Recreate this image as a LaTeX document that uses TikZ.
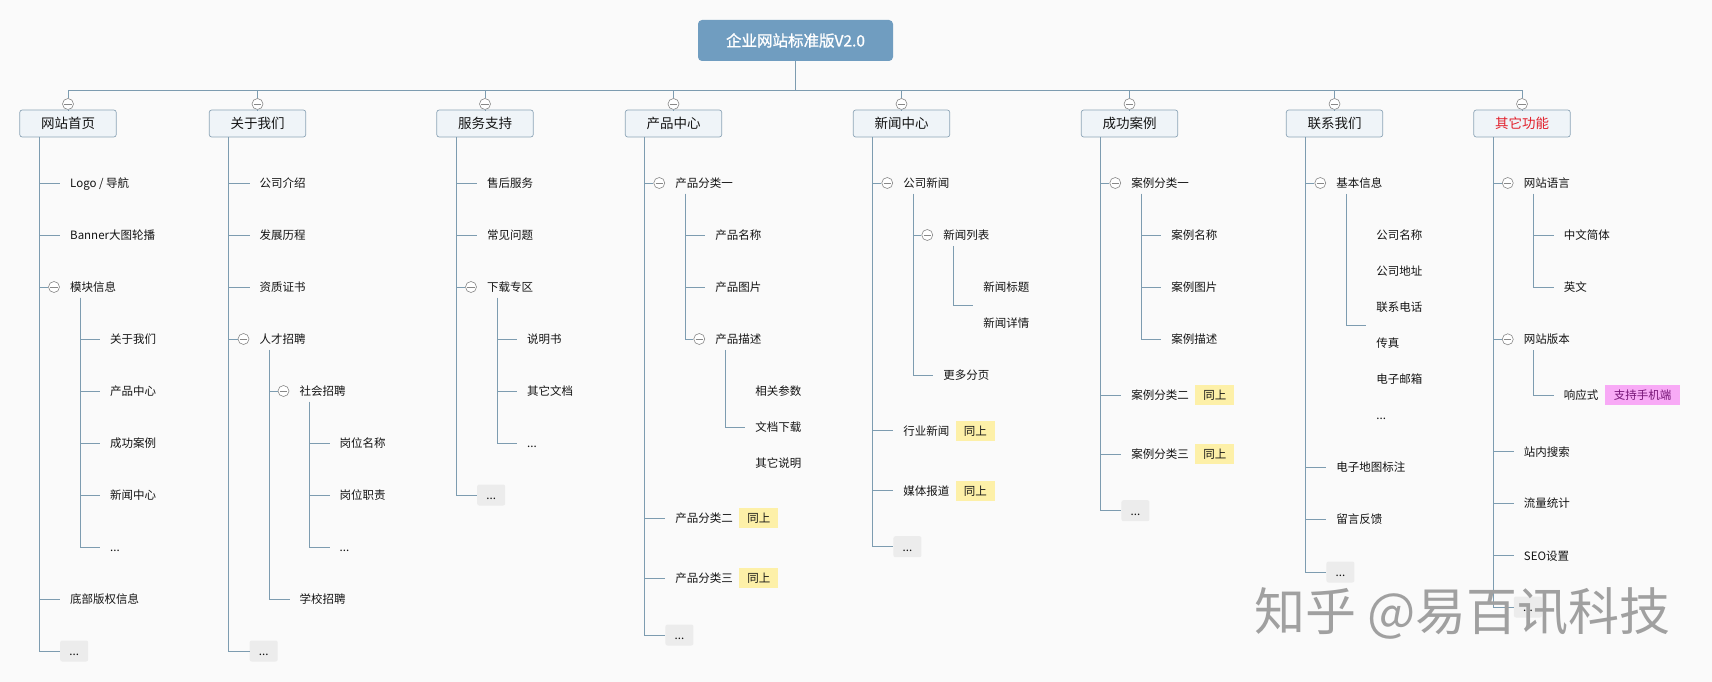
\documentclass[tikz,border=0pt]{standalone}
\usepackage{fontspec}
\setmainfont{Noto Sans CJK SC}
\newfontfamily\rootfont[BoldFont={Noto Sans CJK SC},BoldFeatures={FakeBold=1.2}]{Noto Sans CJK SC}
\usetikzlibrary{positioning}

\definecolor{bgcol}{RGB}{250,250,250}
\definecolor{rootblue}{RGB}{112,157,192}
\definecolor{boxfill}{RGB}{239,244,248}
\definecolor{boxline}{RGB}{141,165,183}
\definecolor{linecol}{RGB}{125,156,176}
\definecolor{foldgray}{RGB}{136,136,136}
\definecolor{ink}{RGB}{20,20,20}
\definecolor{alertred}{RGB}{226,32,43}
\definecolor{tagyellow}{RGB}{253,240,168}
\definecolor{tagpink}{RGB}{248,170,246}
\definecolor{pinktext}{RGB}{118,20,118}
\definecolor{moregray}{RGB}{236,236,236}
\definecolor{markgray}{RGB}{160,160,160}

\newcommand{\leaffont}{\fontsize{11.5}{14}\selectfont}

\begin{document}
\begin{tikzpicture}[x=1pt,y=-1pt,
  root/.style={fill=rootblue,rounded corners=4pt,text=white,minimum width=195pt,
    minimum height=41pt,font=\rootfont\bfseries\fontsize{15.5}{18}\selectfont},
  topic/.style={draw=boxline,fill=boxfill,rounded corners=2.5pt,line width=0.7pt,
    minimum width=96.5pt,minimum height=27pt,inner sep=0pt,text=ink,
    font=\fontsize{13.5}{16}\selectfont},
  item/.style={anchor=west,inner sep=0pt,text height=10.1pt,text depth=1.4pt,
    font=\leaffont,text=ink},
  multi/.style={anchor=west,inner sep=0pt,align=left,text=ink,
    font=\fontsize{11.5}{36}\selectfont},
  fold/.style={circle,draw=foldgray,fill=white,line width=0.6pt,minimum size=11pt,
    inner sep=0pt,path picture={\draw[foldgray,line width=0.6pt]
      ([xshift=1.8pt]path picture bounding box.west) --
      ([xshift=-1.8pt]path picture bounding box.east);}},
  more/.style={anchor=west,fill=moregray,rounded corners=2pt,minimum width=28pt,
    minimum height=21pt,inner sep=0pt,text height=10.1pt,text depth=1.4pt,
    font=\leaffont,text=ink},
  same/.style={fill=tagyellow,inner xsep=8pt,inner ysep=0pt,minimum height=20pt,
    text height=10.1pt,text depth=1.4pt,font=\leaffont,text=ink},
  hint/.style={same,fill=tagpink,text=pinktext,inner xsep=9pt},
  link/.style={draw=linecol,line width=0.9pt},
  tolf/.style={to path={|- ([xshift=-10pt]\tikztotarget.west)}},
  tofd/.style={to path={|- (\tikztotarget.west)}},
  tobus/.style={to path={-| (\tikztotarget)}}]

  \fill[bgcol] (0,0) rectangle (1712,682);
  \useasboundingbox (0,0) rectangle (1712,682);

  % root and first level
  \node [root] at (795.5,40.5) (root) {企业网站标准版V2.0};
  \coordinate (bus) at (795.5,90);

  \node [fold]  at (68,104)      (k1) {};
  \node [topic] at (68,123.5)    (t1) {网站首页};
  \node [fold]  at (257.5,104)   (k2) {};
  \node [topic] at (257.5,123.5) (t2) {关于我们};
  \node [fold]  at (485,104)     (k3) {};
  \node [topic] at (485,123.5)   (t3) {服务支持};
  \node [fold]  at (673.5,104)   (k4) {};
  \node [topic] at (673.5,123.5) (t4) {产品中心};
  \node [fold]  at (901.5,104)   (k5) {};
  \node [topic] at (901.5,123.5) (t5) {新闻中心};
  \node [fold]  at (1129.5,104)  (k6) {};
  \node [topic] at (1129.5,123.5) (t6) {成功案例};
  \node [fold]  at (1334.5,104)  (k7) {};
  \node [topic] at (1334.5,123.5) (t7) {联系我们};
  \node [fold]  at (1522,104)    (k8) {};
  \node [topic,text=alertred] at (1522,123.5) (t8) {其它功能};

  \draw[link] (root) -- (bus);
  \path[link] (bus) edge[tobus] (k1) edge[tobus] (k2) edge[tobus] (k3) edge[tobus] (k4)
                    edge[tobus] (k5) edge[tobus] (k6) edge[tobus] (k7) edge[tobus] (k8);
  \path[link] (k1) edge (t1) (k2) edge (t2) (k3) edge (t3) (k4) edge (t4)
              (k5) edge (t5) (k6) edge (t6) (k7) edge (t7) (k8) edge (t8);

  % 网站首页
  \node [item] at (70,183)  (a1)  {Logo / 导航};
  \node [item] at (70,235)  (a2)  {Banner大图轮播};
  \node [fold] at (54,287)  (a3f) {};
  \node [item] at (70,287)  (a3)  {模块信息};
  \node [item] at (110,339) (a31) {关于我们};
  \node [item] at (110,391) (a32) {产品中心};
  \node [item] at (110,443) (a33) {成功案例};
  \node [item] at (110,495) (a34) {新闻中心};
  \node [item] at (110,547) (a35) {...};
  \node [item] at (70,599)  (a4)  {底部版权信息};
  \node [more] at (60,651)  (a5)  {...};

  \path[link] ([xshift=20pt]t1.south west) edge[tolf] (a1) edge[tolf] (a2)
              edge[tofd] (a3f) edge[tolf] (a4) edge[tofd] (a5);
  \path[link] ([xshift=10pt,yshift=-5pt]a3.south west) edge[tolf] (a31)
              edge[tolf] (a32) edge[tolf] (a33) edge[tolf] (a34) edge[tolf] (a35);

  % 关于我们
  \node [item] at (259.5,183) (b1)   {公司介绍};
  \node [item] at (259.5,235) (b2)   {发展历程};
  \node [item] at (259.5,287) (b3)   {资质证书};
  \node [fold] at (243.5,339) (b4f)  {};
  \node [item] at (259.5,339) (b4)   {人才招聘};
  \node [fold] at (283.5,391) (b41f) {};
  \node [item] at (299.5,391) (b41)  {社会招聘};
  \node [item] at (339.5,443) (b411) {岗位名称};
  \node [item] at (339.5,495) (b412) {岗位职责};
  \node [item] at (339.5,547) (b413) {...};
  \node [item] at (299.5,599) (b42)  {学校招聘};
  \node [more] at (249.5,651) (b5)   {...};

  \path[link] ([xshift=20pt]t2.south west) edge[tolf] (b1) edge[tolf] (b2)
              edge[tolf] (b3) edge[tofd] (b4f) edge[tofd] (b5);
  \path[link] ([xshift=10pt,yshift=-5pt]b4.south west) edge[tofd] (b41f) edge[tolf] (b42);
  \path[link] ([xshift=10pt,yshift=-5pt]b41.south west) edge[tolf] (b411)
              edge[tolf] (b412) edge[tolf] (b413);

  % 服务支持
  \node [item] at (487,183) (c1)  {售后服务};
  \node [item] at (487,235) (c2)  {常见问题};
  \node [fold] at (471,287) (c3f) {};
  \node [item] at (487,287) (c3)  {下载专区};
  \node [item] at (527,339) (c31) {说明书};
  \node [item] at (527,391) (c32) {其它文档};
  \node [item] at (527,443) (c33) {...};
  \node [more] at (477,495) (c4)  {...};

  \path[link] ([xshift=20pt]t3.south west) edge[tolf] (c1) edge[tolf] (c2)
              edge[tofd] (c3f) edge[tofd] (c4);
  \path[link] ([xshift=10pt,yshift=-5pt]c3.south west) edge[tolf] (c31)
              edge[tolf] (c32) edge[tolf] (c33);

  % 产品中心
  \node [fold]  at (659.25,183)   (d1f)  {};
  \node [item]  at (675.25,183)   (d1)   {产品分类一};
  \node [item]  at (715.25,235)   (d11)  {产品名称};
  \node [item]  at (715.25,287)   (d12)  {产品图片};
  \node [fold]  at (699.25,339)   (d13f) {};
  \node [item]  at (715.25,339)   (d13)  {产品描述};
  \node [multi] at (755.25,427.5) (d131) {相关参数\\文档下载\\其它说明};
  \node [item]  at (675.25,518.3) (d2)   {产品分类二};
  \node [same,right=6pt of d2]    (d2s)  {同上};
  \node [item]  at (675.25,578.3) (d3)   {产品分类三};
  \node [same,right=6pt of d3]    (d3s)  {同上};
  \node [more]  at (665.25,635)   (d4)   {...};

  \path[link] ([xshift=20pt]t4.south west) edge[tofd] (d1f) edge[tolf] (d2)
              edge[tolf] (d3) edge[tofd] (d4);
  \path[link] ([xshift=10pt,yshift=-5pt]d1.south west) edge[tolf] (d11)
              edge[tolf] (d12) edge[tofd] (d13f);
  \path[link] ([xshift=10pt,yshift=-5pt]d13.south west) edge[tolf] (d131);

  % 新闻中心
  \node [fold]  at (887.25,183)   (e1f)  {};
  \node [item]  at (903.25,183)   (e1)   {公司新闻};
  \node [fold]  at (927.25,235)   (e11f) {};
  \node [item]  at (943.25,235)   (e11)  {新闻列表};
  \node [multi] at (983.25,305)   (e111) {新闻标题\\新闻详情};
  \node [item]  at (943.25,375)   (e12)  {更多分页};
  \node [item]  at (903.25,430.7) (e2)   {行业新闻};
  \node [same,right=6pt of e2]    (e2s)  {同上};
  \node [item]  at (903.25,490.7) (e3)   {媒体报道};
  \node [same,right=6pt of e3]    (e3s)  {同上};
  \node [more]  at (893.25,546.7) (e4)   {...};

  \path[link] ([xshift=20pt]t5.south west) edge[tofd] (e1f) edge[tolf] (e2)
              edge[tolf] (e3) edge[tofd] (e4);
  \path[link] ([xshift=10pt,yshift=-5pt]e1.south west) edge[tofd] (e11f) edge[tolf] (e12);
  \path[link] ([xshift=10pt,yshift=-5pt]e11.south west) edge[tolf] (e111);

  % 成功案例
  \node [fold] at (1115.25,183)   (f1f) {};
  \node [item] at (1131.25,183)   (f1)  {案例分类一};
  \node [item] at (1171.25,235)   (f11) {案例名称};
  \node [item] at (1171.25,287)   (f12) {案例图片};
  \node [item] at (1171.25,339)   (f13) {案例描述};
  \node [item] at (1131.25,395)   (f2)  {案例分类二};
  \node [same,right=6pt of f2]    (f2s) {同上};
  \node [item] at (1131.25,454)   (f3)  {案例分类三};
  \node [same,right=6pt of f3]    (f3s) {同上};
  \node [more] at (1121.25,510.7) (f4)  {...};

  \path[link] ([xshift=20pt]t6.south west) edge[tofd] (f1f) edge[tolf] (f2)
              edge[tolf] (f3) edge[tofd] (f4);
  \path[link] ([xshift=10pt,yshift=-5pt]f1.south west) edge[tolf] (f11)
              edge[tolf] (f12) edge[tolf] (f13);

  % 联系我们
  \node [fold]  at (1320.25,183)   (g1f) {};
  \node [item]  at (1336.25,183)   (g1)  {基本信息};
  \node [multi] at (1376.25,325)   (g11) {公司名称\\公司地址\\联系电话\\传真\\电子邮箱\\...};
  \node [item]  at (1336.25,467.3) (g2)  {电子地图标注};
  \node [item]  at (1336.25,519)   (g3)  {留言反馈};
  \node [more]  at (1326.25,572)   (g4)  {...};

  \path[link] ([xshift=20pt]t7.south west) edge[tofd] (g1f) edge[tolf] (g2)
              edge[tolf] (g3) edge[tofd] (g4);
  \path[link] ([xshift=10pt,yshift=-5pt]g1.south west) edge[tolf] (g11);

  % 其它功能
  \node [fold] at (1507.75,183)   (h1f) {};
  \node [item] at (1523.75,183)   (h1)  {网站语言};
  \node [item] at (1563.75,235)   (h11) {中文简体};
  \node [item] at (1563.75,287)   (h12) {英文};
  \node [fold] at (1507.75,339.3) (h2f) {};
  \node [item] at (1523.75,339.3) (h2)  {网站版本};
  \node [item] at (1563.75,395)   (h21) {响应式};
  \node [hint,right=6pt of h21]   (h21s) {支持手机端};
  \node [item] at (1523.75,451.7) (h3)  {站内搜索};
  \node [item] at (1523.75,503.3) (h4)  {流量统计};
  \node [item] at (1523.75,555.7) (h5)  {SEO设置};
  \node [more] at (1513.75,607)   (h6)  {...};

  \path[link] ([xshift=20pt]t8.south west) edge[tofd] (h1f) edge[tofd] (h2f)
              edge[tolf] (h3) edge[tolf] (h4) edge[tolf] (h5) edge[tofd] (h6);
  \path[link] ([xshift=10pt,yshift=-5pt]h1.south west) edge[tolf] (h11) edge[tolf] (h12);
  \path[link] ([xshift=10pt,yshift=-5pt]h2.south west) edge[tolf] (h21);

  % watermark
  \node [anchor=west,inner sep=0pt,text=markgray,
    font=\fontsize{51}{53}\selectfont] at (1254,613.5) (mark) {知乎 @易百讯科技};
\end{tikzpicture}
\end{document}
